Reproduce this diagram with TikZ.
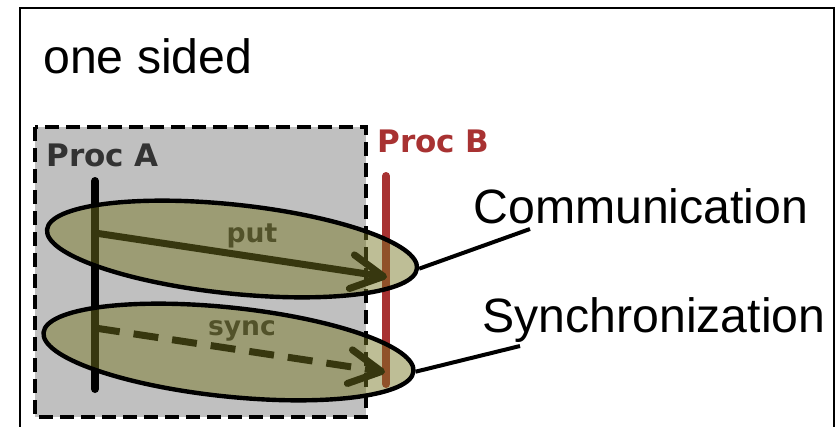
\documentclass[tikz,border=0pt]{standalone}
\usepackage{fontspec}
\setmainfont{Liberation Sans}
\newfontfamily\procfont{DejaVu Sans}
\usetikzlibrary{arrows.meta,shapes.geometric,positioning}

\definecolor{procred}{RGB}{168,50,50}
\definecolor{olivefill}{RGB}{117,117,32}
\definecolor{boxgray}{RGB}{192,192,192}
\definecolor{labelgray}{RGB}{51,51,51}

\tikzset{
  proc/.style={line width=4pt,line cap=round},
  msg/.style={line width=3.5pt,-{Straight Barb[length=16pt,width=17pt,round]}},
  group/.style={ellipse,draw,line width=2.2pt,fill=olivefill,fill opacity=0.47,
    inner sep=0pt,minimum width=186pt,minimum height=44.5pt,rotate=-6},
  bigtext/.style={inner sep=0pt,anchor=base west,font=\fontsize{24.1}{28}\selectfont},
  proctext/.style={inner sep=0pt,anchor=base west,font=\procfont\bfseries\fontsize{15.5}{18}\selectfont},
  msgtext/.style={inner sep=0pt,anchor=base,text=labelgray,font=\procfont\bfseries\fontsize{13.3}{16}\selectfont},
  leader/.style={line width=2pt}
}

\begin{document}
\begin{tikzpicture}[x=0.5pt,y=-0.5pt]
  \useasboundingbox (0,0) rectangle (838,427);
  %outer frame
  \draw [line width=1pt] (20,440) -- (20,8) -- (834,8) -- (834,440);
  \node [bigtext] (title) at (43,74) {one sided};
  %shaded process box
  \draw [fill=boxgray,line width=2pt,dash pattern=on 7pt off 3.5pt] (35,127) rectangle (366,417);
  %process lines
  \node [proctext,text=labelgray] (procA) at (46,166) {Proc A};
  \node [proctext,text=procred] (procB) at (377,153) {Proc B};
  \coordinate (Atop) at (95,181);
  \coordinate (Abot) at (95,389);
  \coordinate (Btop) at (386,176);
  \coordinate (Bbot) at (386,384);
  \draw [proc,black] (Atop) -- (Abot);
  \draw [proc,procred] (Btop) -- (Bbot);
  %messages
  \coordinate (putA) at (95,233);
  \coordinate (putB) at (387,277);
  \coordinate (syncA) at (95,328);
  \coordinate (syncB) at (385,372);
  \draw [msg,black] (putA) -- (putB);
  \draw [msg,black,dash pattern=on 12.5pt off 7pt] (syncA) -- (syncB);
  \node [msgtext] (putlabel) at (252,242) {put};
  \node [msgtext] (synclabel) at (242,335) {sync};
  %groups on top
  \node [group] (comm) at (232,249) {};
  \node [group] (sync) at (228.5,352) {};
  %leaders
  \node [bigtext] (commtext) at (473,223) {Communication};
  \node [bigtext] (synctext) at (482,332) {Synchronization};
  \coordinate (commend) at (530,229);
  \coordinate (syncend) at (520,346);
  \draw [leader] (comm.east) -- (commend);
  \draw [leader] (sync.east) -- (syncend);
\end{tikzpicture}
\end{document}
